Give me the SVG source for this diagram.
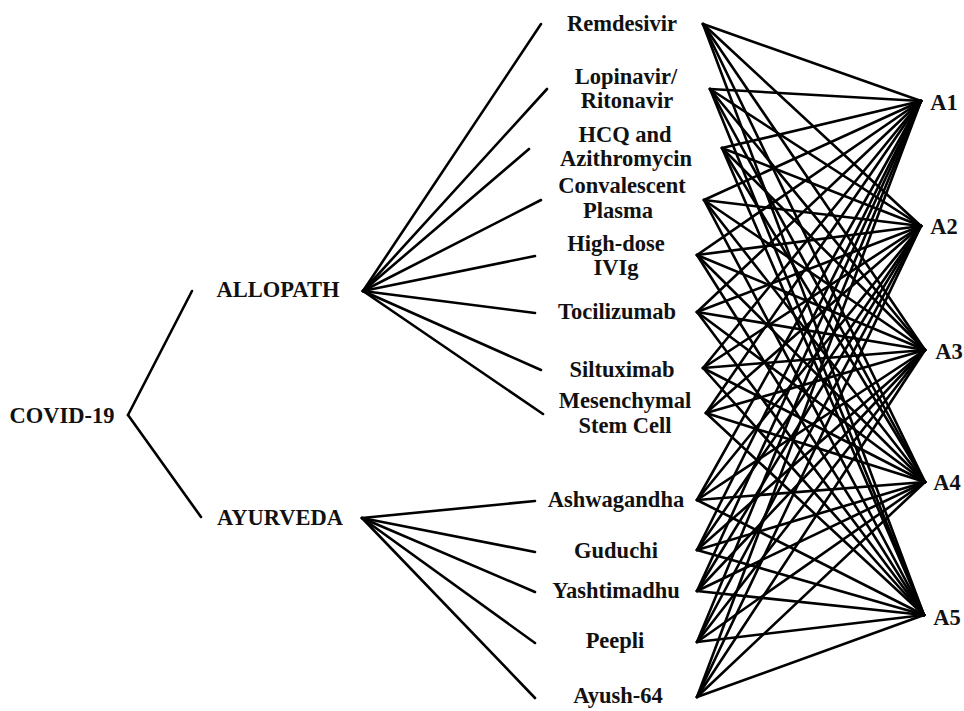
<svg xmlns="http://www.w3.org/2000/svg" width="964" height="711" viewBox="0 0 964 711">
<style>
text{font-family:"Liberation Serif","Times New Roman",serif;font-weight:bold;font-size:22.5px;fill:#111;text-anchor:middle}
.c line{stroke:#000;stroke-width:2.6;stroke-linecap:round}
</style>
<rect width="964" height="711" fill="#fff"/>
<g class="c" id="connectors">
<line x1="128" y1="415" x2="192" y2="291"/>
<line x1="128" y1="415" x2="201" y2="517"/>
<line x1="363" y1="291" x2="541" y2="24"/>
<line x1="363" y1="291" x2="547" y2="89"/>
<line x1="363" y1="291" x2="529" y2="149"/>
<line x1="363" y1="291" x2="541" y2="200"/>
<line x1="363" y1="291" x2="535" y2="256"/>
<line x1="363" y1="291" x2="535" y2="313"/>
<line x1="363" y1="291" x2="541" y2="370"/>
<line x1="363" y1="291" x2="543" y2="414"/>
<line x1="362" y1="518" x2="535" y2="501"/>
<line x1="362" y1="518" x2="535" y2="552"/>
<line x1="362" y1="518" x2="535" y2="592"/>
<line x1="362" y1="518" x2="535" y2="643"/>
<line x1="362" y1="518" x2="535" y2="698"/>
</g>
<g class="c" id="bipartite">
<!-- Remdesivir -->
<line x1="703" y1="24" x2="921" y2="101"/><line x1="703" y1="24" x2="921" y2="226"/><line x1="703" y1="24" x2="925" y2="350"/><line x1="703" y1="24" x2="925" y2="482"/><line x1="703" y1="24" x2="924" y2="615"/>
<!-- Lopinavir -->
<line x1="710" y1="89" x2="921" y2="101"/><line x1="710" y1="89" x2="921" y2="226"/><line x1="710" y1="89" x2="925" y2="350"/><line x1="710" y1="89" x2="925" y2="482"/><line x1="710" y1="89" x2="924" y2="615"/>
<!-- HCQ -->
<line x1="722" y1="148" x2="921" y2="101"/><line x1="722" y1="148" x2="921" y2="226"/><line x1="722" y1="148" x2="925" y2="350"/><line x1="722" y1="148" x2="925" y2="482"/><line x1="722" y1="148" x2="924" y2="615"/>
<!-- Convalescent -->
<line x1="704" y1="200" x2="921" y2="101"/><line x1="704" y1="200" x2="921" y2="226"/><line x1="704" y1="200" x2="925" y2="350"/><line x1="704" y1="200" x2="925" y2="482"/><line x1="704" y1="200" x2="924" y2="615"/>
<!-- High-dose -->
<line x1="697" y1="255" x2="921" y2="101"/><line x1="697" y1="255" x2="921" y2="226"/><line x1="697" y1="255" x2="925" y2="350"/><line x1="697" y1="255" x2="925" y2="482"/><line x1="697" y1="255" x2="924" y2="615"/>
<!-- Tocilizumab -->
<line x1="697" y1="312" x2="921" y2="101"/><line x1="697" y1="312" x2="921" y2="226"/><line x1="697" y1="312" x2="925" y2="350"/><line x1="697" y1="312" x2="925" y2="482"/><line x1="697" y1="312" x2="924" y2="615"/>
<!-- Siltuximab -->
<line x1="703" y1="368" x2="921" y2="101"/><line x1="703" y1="368" x2="921" y2="226"/><line x1="703" y1="368" x2="925" y2="350"/><line x1="703" y1="368" x2="925" y2="482"/><line x1="703" y1="368" x2="924" y2="615"/>
<!-- Mesenchymal -->
<line x1="706" y1="413" x2="921" y2="101"/><line x1="706" y1="413" x2="921" y2="226"/><line x1="706" y1="413" x2="925" y2="350"/><line x1="706" y1="413" x2="925" y2="482"/><line x1="706" y1="413" x2="924" y2="615"/>
<!-- Ashwagandha -->
<line x1="697" y1="500" x2="921" y2="101"/><line x1="697" y1="500" x2="921" y2="226"/><line x1="697" y1="500" x2="925" y2="350"/><line x1="697" y1="500" x2="925" y2="482"/><line x1="697" y1="500" x2="924" y2="615"/>
<!-- Guduchi -->
<line x1="697" y1="550" x2="921" y2="101"/><line x1="697" y1="550" x2="921" y2="226"/><line x1="697" y1="550" x2="925" y2="350"/><line x1="697" y1="550" x2="925" y2="482"/><line x1="697" y1="550" x2="924" y2="615"/>
<!-- Yashtimadhu -->
<line x1="697" y1="591" x2="921" y2="101"/><line x1="697" y1="591" x2="921" y2="226"/><line x1="697" y1="591" x2="925" y2="350"/><line x1="697" y1="591" x2="925" y2="482"/><line x1="697" y1="591" x2="924" y2="615"/>
<!-- Peepli -->
<line x1="697" y1="642" x2="921" y2="101"/><line x1="697" y1="642" x2="921" y2="226"/><line x1="697" y1="642" x2="925" y2="350"/><line x1="697" y1="642" x2="925" y2="482"/><line x1="697" y1="642" x2="924" y2="615"/>
<!-- Ayush-64 -->
<line x1="697" y1="697" x2="921" y2="101"/><line x1="697" y1="697" x2="921" y2="226"/><line x1="697" y1="697" x2="925" y2="350"/><line x1="697" y1="697" x2="925" y2="482"/><line x1="697" y1="697" x2="924" y2="615"/>
</g>
<g id="covid"><text x="62" y="423">COVID-19</text></g>
<g id="allopath"><text x="278" y="297">ALLOPATH</text></g>
<g id="ayurveda"><text x="280" y="525">AYURVEDA</text></g>
<g id="remdesivir"><text x="622" y="31">Remdesivir</text></g>
<g id="lopinavir"><text x="626" y="84">Lopinavir/</text><text x="627" y="108">Ritonavir</text></g>
<g id="hcq"><text x="625" y="142">HCQ and</text><text x="626" y="166">Azithromycin</text></g>
<g id="plasma"><text x="622" y="193">Convalescent</text><text x="618" y="218">Plasma</text></g>
<g id="ivig"><text x="616" y="251">High-dose</text><text x="616" y="275">IVIg</text></g>
<g id="tocilizumab"><text x="617" y="319">Tocilizumab</text></g>
<g id="siltuximab"><text x="622" y="377">Siltuximab</text></g>
<g id="msc"><text x="625" y="408">Mesenchymal</text><text x="625" y="433">Stem Cell</text></g>
<g id="ashwagandha"><text x="616" y="507">Ashwagandha</text></g>
<g id="guduchi"><text x="616" y="558">Guduchi</text></g>
<g id="yashtimadhu"><text x="616" y="598">Yashtimadhu</text></g>
<g id="peepli"><text x="615" y="648">Peepli</text></g>
<g id="ayush64"><text x="618" y="703">Ayush-64</text></g>
<g id="a1"><text x="944" y="110">A1</text></g>
<g id="a2"><text x="944" y="234">A2</text></g>
<g id="a3"><text x="949" y="359">A3</text></g>
<g id="a4"><text x="947" y="490">A4</text></g>
<g id="a5"><text x="947" y="625">A5</text></g>
</svg>
